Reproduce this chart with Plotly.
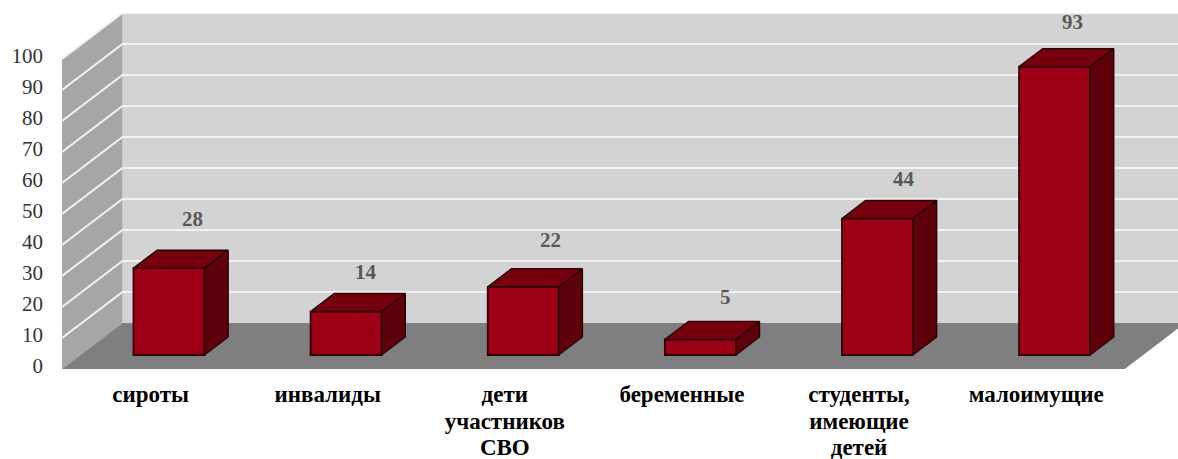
import plotly.graph_objects as go

categories = ["сироты", "инвалиды", "дети<br>участников<br>СВО", "беременные", "студенты,<br>имеющие<br>детей", "малоимущие"]
values = [28, 14, 22, 5, 44, 93]
y_ticks = [0, 10, 20, 30, 40, 50, 60, 70, 80, 90, 100]
label_nudge_x = [24, 20, 27, 25, 27, 18]
label_nudge_y = [49, 40, 47, 43, 40, 45]

W, H = 1178, 459
L, T, B = 61.5, 13, 90
CAT_PX = 177.2
UNIT_PX = 3.1
DX = 60.5 / CAT_PX
DY = 46 / UNIT_PX
D0, D1 = 14 / 46, 32 / 46
HALF = 35.5 / CAT_PX


def proj(x, v, d):
    return x + d * DX, v + d * DY


def poly(points):
    pts = [proj(*p) for p in points]
    return "M " + " L ".join(f"{a},{b}" for a, b in pts) + " Z"


n = len(categories)
shapes = []
for pts, col in [
    ([(0, 0, 1), (n, 0, 1), (n, 100, 1), (0, 100, 1)], "#d3d3d3"),
    ([(0, 0, 0), (0, 0, 1), (0, 100, 1), (0, 100, 0)], "#a6a6a6"),
    ([(0, 0, 0), (n, 0, 0), (n, 0, 1), (0, 0, 1)], "#7f7f7f"),
]:
    shapes.append(dict(type="path", path=poly(pts), xref="x", yref="y", layer="below",
                       fillcolor=col, line=dict(width=0)))
for t in y_ticks[1:]:
    a0, b0 = proj(0, t, 0)
    a1, b1 = proj(0, t, 1)
    a2, b2 = proj(n, t, 1)
    shapes.append(dict(type="path", path=f"M {a0},{b0} L {a1},{b1} L {a2},{b2}", xref="x", yref="y",
                       layer="below", line=dict(color="#f2f2f2", width=2)))

fig = go.Figure()
centers = [i + 0.5 for i in range(n)]
base = D0 * DY
fig.add_trace(go.Bar(
    x=[c + D0 * DX for c in centers], y=values, base=[base] * n, width=2 * HALF,
    marker=dict(color="#9e0015", line=dict(color="#2b0005", width=1.8)),
    showlegend=False, hoverinfo="skip"))

for c, v in zip(centers, values):
    l, r = c - HALF, c + HALF
    for pts, col in [
        ([(l, v, D0), (r, v, D0), (r, v, D1), (l, v, D1)], "#77000f"),
        ([(r, 0, D0), (r, v, D0), (r, v, D1), (r, 0, D1)], "#5f000d"),
    ]:
        p = [proj(*q) for q in pts]
        fig.add_trace(go.Scatter(
            x=[a for a, _ in p] + [p[0][0]], y=[b for _, b in p] + [p[0][1]],
            mode="lines", fill="toself", fillcolor=col,
            line=dict(color="#2b0005", width=1.5), showlegend=False, hoverinfo="skip"))

annotations = [
    dict(x=c + D0 * DX, y=v + base, xref="x", yref="y", text=str(v), showarrow=False,
         xshift=nx, yshift=ny, font=dict(family="Liberation Serif", size=21, color="#595959", weight="bold"))
    for c, v, nx, ny in zip(centers, values, label_nudge_x, label_nudge_y)
]

tick_text = ["<br>".join(f"<span style='font-size:23px'>{p}</span>" for p in c.split("<br>")) for c in categories]

fig.update_layout(
    width=W, height=H, margin=dict(l=L, r=0, t=T, b=B, autoexpand=False),
    paper_bgcolor="white", plot_bgcolor="white", shapes=shapes, annotations=annotations,
    showlegend=False,
    xaxis=dict(range=[0, (W - L) / CAT_PX], tickvals=centers, ticktext=tick_text, automargin=False,
               showgrid=False, zeroline=False, showline=False, ticks="", ticklabelstandoff=12,
               tickfont=dict(family="Liberation Serif", size=20.4, color="black", weight="bold"), tickangle=0),
    yaxis=dict(range=[0, (H - T - B) / UNIT_PX], tickvals=y_ticks, showgrid=False, zeroline=False, automargin=False,
               showline=False, ticks="", ticklabelstandoff=18, ticklabelshift=-3,
               tickfont=dict(family="Liberation Serif", size=21, color="#333333")),
)
fig.write_html("out.html", config=dict(displayModeBar=False),
               post_script="document.body.style.margin='0';document.documentElement.style.overflow='hidden';")
